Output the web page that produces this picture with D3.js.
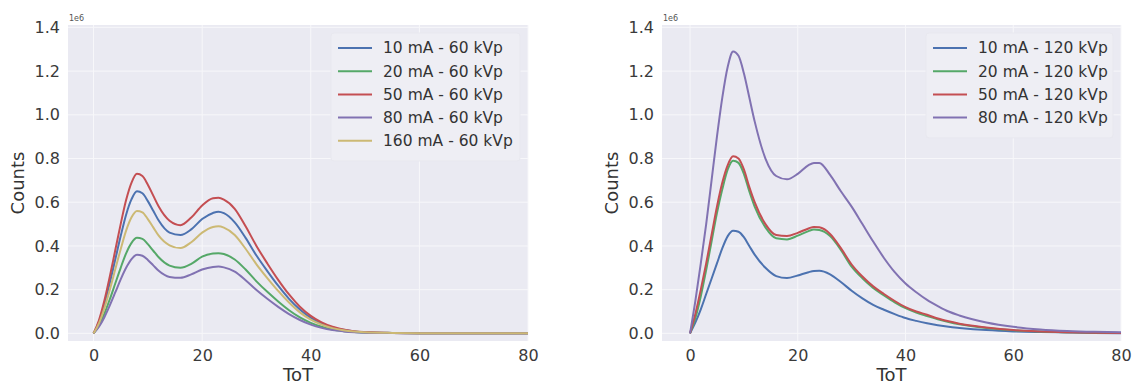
<!DOCTYPE html>
<html>
<head>
<meta charset="utf-8">
<script src="https://cdn.jsdelivr.net/npm/d3@7"></script>
<style>
  html, body { margin: 0; padding: 0; background: #fff; }
  svg { display: block; }
</style>
</head>
<body>
<svg id="chart" width="1135" height="385"></svg>
<script>
// ToT sample positions shared by every spectrum
const tot = [0,1,2,3,4,5,6,7,8,9,10,11,12,14,16,18,20,22,23,24,26,28,30,32,34,36,38,40,42,44,46,48,50,55,60,65,70,75,80];

// 60 kVp spectra (counts, units of 1e6)
const kvp60_10mA  = [0,0.053,0.134,0.231,0.338,0.445,0.543,0.614,0.65,0.641,0.605,0.561,0.516,0.461,0.45,0.476,0.523,0.551,0.557,0.55,0.508,0.437,0.356,0.285,0.218,0.158,0.109,0.071,0.045,0.027,0.016,0.009,0.005,0.002,0.001,0.0005,0.0003,0.0002,0.0001];
const kvp60_20mA  = [0,0.036,0.09,0.156,0.228,0.3,0.366,0.414,0.437,0.432,0.408,0.378,0.348,0.31,0.30,0.318,0.351,0.365,0.367,0.363,0.338,0.292,0.238,0.19,0.146,0.106,0.073,0.048,0.03,0.018,0.011,0.006,0.004,0.0015,0.0008,0.0004,0.0002,0.0001,0];
const kvp60_50mA  = [0,0.06,0.15,0.26,0.38,0.50,0.61,0.69,0.73,0.72,0.68,0.63,0.58,0.515,0.495,0.53,0.585,0.618,0.62,0.612,0.57,0.49,0.40,0.32,0.245,0.178,0.122,0.08,0.05,0.03,0.018,0.01,0.006,0.002,0.001,0.0005,0.0003,0.0002,0.0001];
const kvp60_80mA  = [0,0.03,0.074,0.128,0.187,0.247,0.30,0.34,0.36,0.355,0.336,0.311,0.286,0.258,0.254,0.27,0.292,0.304,0.306,0.302,0.282,0.243,0.198,0.158,0.121,0.088,0.061,0.04,0.025,0.015,0.009,0.005,0.003,0.0012,0.0006,0.0003,0.0002,0.0001,0];
const kvp60_160mA = [0,0.046,0.115,0.2,0.293,0.385,0.47,0.531,0.56,0.554,0.523,0.485,0.447,0.403,0.39,0.417,0.461,0.487,0.49,0.484,0.45,0.387,0.316,0.253,0.194,0.141,0.096,0.063,0.04,0.024,0.014,0.008,0.005,0.002,0.001,0.0005,0.0003,0.0002,0.0001];

// 120 kVp spectra (counts, units of 1e6)
const kvp120_10mA = [0,0.05,0.11,0.18,0.25,0.32,0.39,0.445,0.47,0.465,0.44,0.4,0.36,0.3,0.262,0.253,0.265,0.28,0.285,0.286,0.27,0.235,0.195,0.16,0.13,0.108,0.088,0.07,0.057,0.046,0.037,0.03,0.025,0.015,0.009,0.006,0.004,0.002,0.001];
const kvp120_20mA = [0,0.07,0.17,0.29,0.42,0.55,0.66,0.75,0.79,0.78,0.73,0.65,0.58,0.485,0.435,0.43,0.447,0.468,0.475,0.473,0.445,0.382,0.305,0.252,0.208,0.174,0.142,0.115,0.095,0.079,0.064,0.052,0.042,0.025,0.014,0.008,0.005,0.003,0.002];
const kvp120_50mA = [0,0.09,0.2,0.32,0.45,0.58,0.69,0.77,0.81,0.80,0.75,0.67,0.6,0.5,0.45,0.445,0.46,0.48,0.487,0.485,0.455,0.39,0.315,0.26,0.215,0.18,0.148,0.12,0.1,0.085,0.068,0.055,0.044,0.027,0.015,0.009,0.005,0.003,0.002];
const kvp120_80mA = [0,0.15,0.32,0.5,0.7,0.9,1.08,1.22,1.29,1.27,1.19,1.08,0.97,0.8,0.72,0.705,0.73,0.77,0.78,0.78,0.725,0.65,0.58,0.5,0.42,0.345,0.28,0.228,0.188,0.153,0.125,0.1,0.082,0.05,0.03,0.018,0.011,0.007,0.005];

// Legend labels
const labels60  = ["10 mA - 60 kVp", "20 mA - 60 kVp", "50 mA - 60 kVp", "80 mA - 60 kVp", "160 mA - 60 kVp"];
const labels120 = ["10 mA - 120 kVp", "20 mA - 120 kVp", "50 mA - 120 kVp", "80 mA - 120 kVp"];

// Axis ticks
const xTicks = [0, 20, 40, 60, 80];
const yTicks = [0, 0.2, 0.4, 0.6, 0.8, 1.0, 1.2, 1.4];

// seaborn "deep" colours
const palette = ["#4C72B0", "#55A868", "#C44E52", "#8172B2", "#CCB974"];

const FONT = "'DejaVu Sans', 'Liberation Sans', sans-serif";
const svg = d3.select("#chart");
svg.append("rect").attr("width", 1135).attr("height", 385).attr("fill", "#fff");

function drawPanel(p) {
  const x = d3.scaleLinear().domain(p.xDomain).range([p.left, p.right]);
  const y = d3.scaleLinear().domain([-0.035, 1.411]).range([p.bottom, p.top]);
  const g = svg.append("g");

  // plot area
  g.append("rect")
    .attr("x", p.left).attr("y", p.top)
    .attr("width", p.right - p.left).attr("height", p.bottom - p.top)
    .attr("fill", "#EAEAF2");

  // white grid
  g.append("g").selectAll("line").data(xTicks).join("line")
    .attr("x1", d => x(d)).attr("x2", d => x(d))
    .attr("y1", p.top).attr("y2", p.bottom)
    .attr("stroke", "#f7f7fa").attr("stroke-width", 1);
  g.append("g").selectAll("line").data(yTicks).join("line")
    .attr("x1", p.left).attr("x2", p.right)
    .attr("y1", d => y(d)).attr("y2", d => y(d))
    .attr("stroke", "#f7f7fa").attr("stroke-width", 1);

  // axes (labels only, no tick marks)
  const xAxis = g.append("g").attr("transform", `translate(0,${p.bottom})`)
    .call(d3.axisBottom(x).tickValues(xTicks).tickSize(0).tickPadding(9).tickFormat(d3.format("d")));
  const yAxis = g.append("g").attr("transform", `translate(${p.left},0)`)
    .call(d3.axisLeft(y).tickValues(yTicks).tickSize(0).tickPadding(8).tickFormat(d3.format(".1f")));
  [xAxis, yAxis].forEach(a => {
    a.select(".domain").remove();
    a.selectAll("text").attr("font-family", FONT).attr("font-size", 16).attr("fill", "#3a3a3a");
  });

  // scale multiplier
  g.append("text").attr("x", p.left + 1).attr("y", 21)
    .attr("font-family", FONT).attr("font-size", 8).attr("fill", "#555").text("1e6");

  // axis titles
  g.append("text")
    .attr("x", (p.left + p.right) / 2).attr("y", 381)
    .attr("text-anchor", "middle")
    .attr("font-family", FONT).attr("font-size", 18).attr("fill", "#333")
    .text("ToT");
  g.append("text")
    .attr("transform", `translate(${p.left - 44},${(p.top + p.bottom) / 2}) rotate(-90)`)
    .attr("text-anchor", "middle")
    .attr("font-family", FONT).attr("font-size", 18).attr("fill", "#333")
    .text("Counts");

  // spectra
  const line = d3.line()
    .x((d, i) => x(tot[i]))
    .y(d => y(d))
    .curve(d3.curveMonotoneX);
  p.series.forEach((s, i) => {
    g.append("path").datum(s)
      .attr("d", line)
      .attr("fill", "none")
      .attr("stroke", palette[i])
      .attr("stroke-width", 2);
  });

  // legend
  const rowH = 23.2;
  const lg = g.append("g");
  lg.append("rect")
    .attr("x", p.legendX - 7).attr("y", 33)
    .attr("width", p.right - 8 - (p.legendX - 7))
    .attr("height", p.labels.length * rowH + 12)
    .attr("rx", 3)
    .attr("fill", "#eeeef4")
    .attr("stroke", "#e8e8ef").attr("stroke-width", 1);
  p.labels.forEach((lab, i) => {
    const yy = 48 + i * rowH;
    lg.append("line")
      .attr("x1", p.legendX).attr("x2", p.legendX + 34)
      .attr("y1", yy).attr("y2", yy)
      .attr("stroke", palette[i]).attr("stroke-width", 2);
    lg.append("text")
      .attr("x", p.legendX + 45).attr("y", yy)
      .attr("dy", "0.35em")
      .attr("font-family", FONT).attr("font-size", 15.5).attr("fill", "#333")
      .text(lab);
  });
}

drawPanel({
  left: 68, right: 528, top: 25, bottom: 341,
  xDomain: [-4.7, 80],
  series: [kvp60_10mA, kvp60_20mA, kvp60_50mA, kvp60_80mA, kvp60_160mA],
  labels: labels60,
  legendX: 338
});

drawPanel({
  left: 662, right: 1121, top: 25, bottom: 341,
  xDomain: [-5.2, 80],
  series: [kvp120_10mA, kvp120_20mA, kvp120_50mA, kvp120_80mA],
  labels: labels120,
  legendX: 933
});
</script>
</body>
</html>
